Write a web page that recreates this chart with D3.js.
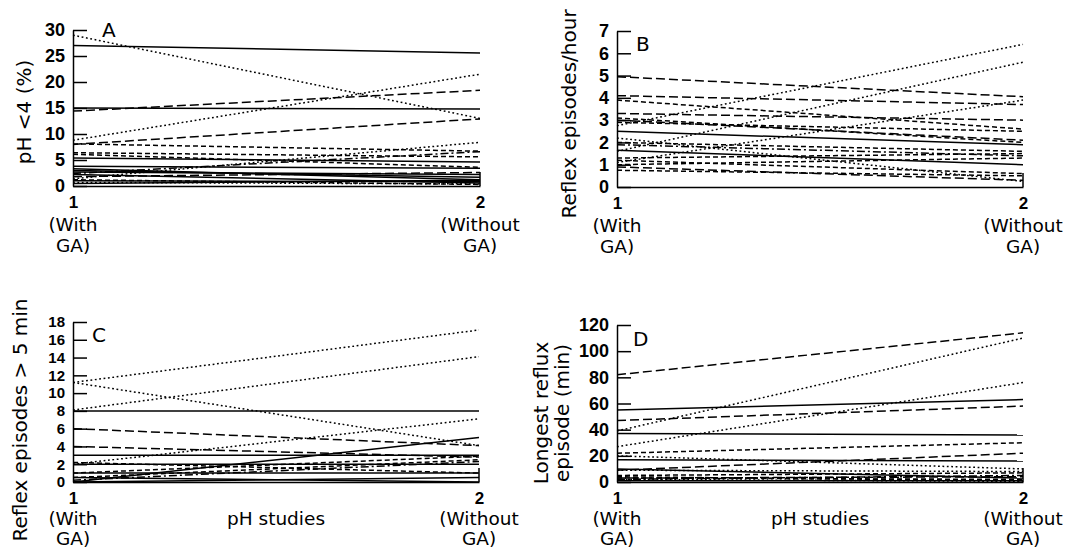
<!DOCTYPE html>
<html><head><meta charset="utf-8">
<script src="https://cdn.jsdelivr.net/npm/d3@7"></script>
<style>
body{margin:0;background:#fff;}
svg{display:block;background:#fff;}
.yaxis .tick text{font-family:"Liberation Sans",Arial,sans-serif;font-weight:bold;font-size:18px;fill:#000;}
.yaxis.tight .tick text{font-size:15px;}
.xaxis .tick text{font-family:"Liberation Sans",Arial,sans-serif;font-weight:bold;font-size:17px;fill:#000;}
.domain,.tick line{stroke:#000;stroke-width:1.5;}
.lbl{font-family:"DejaVu Sans",sans-serif;font-size:20px;fill:#000;}
.cat{font-family:"DejaVu Sans",sans-serif;font-size:18.5px;fill:#000;}
</style></head><body>
<svg id="chart" width="1067" height="551"></svg>
<script>
// ---- shared x categories ----
const xValues = [1, 2];
const xTickLabels = ["1", "2"];
const xCatLine1 = ["(With", "(Without"];
const xCatLine2 = ["GA)", "GA)"];
const xAxisTitle = "pH studies";

// ---- Panel A: pH < 4 (%) ----
const phWith    = [27.0, 29.0, 15.0, 14.4, 8.8, 8.0, 8.1, 6.4, 6.1, 5.4, 1.4, 2.4, 3.8, 3.3, 3.0, 2.7, 2.2, 1.0, 1.2, 0.5, 1.8, 0.7];
const phWithout = [25.6, 13.0, 14.8, 18.4, 21.5, 12.9, 6.7, 5.6, 3.6, 4.6, 8.4, 6.6, 3.4, 1.2, 1.7, 2.2, 0.6, 0.8, 0.3, 1.1, 2.6, 0.4];
const phStyle   = ["solid","dot","solid","long","dot","long","dash","dash","dash","solid","dot","dashdot","solid","solid","solid","solid","solid","solid","dash","solid","long","dot"];
const phTicks   = [0, 5, 10, 15, 20, 25, 30];

// ---- Panel B: reflux episodes / hour ----
const epWith    = [2.75, 1.6, 1.1, 2.2, 4.95, 4.1, 3.9, 3.3, 3.1, 2.5, 3.0, 1.65, 1.9, 1.3, 1.2, 0.9, 1.0, 2.0, 0.75, 2.9];
const epWithout = [6.4, 5.6, 3.9, 0.25, 4.05, 3.7, 2.6, 3.0, 2.0, 1.9, 2.1, 1.0, 1.4, 1.5, 0.6, 0.3, 1.3, 1.6, 0.5, 2.5];
const epStyle   = ["dot","dot","dot","dot","long","long","dash","long","dash","solid","long","solid","dashdot","dash","dash","long","dash","dash","dash","dash"];
const epTicks   = [0, 1, 2, 3, 4, 5, 6, 7];

// ---- Panel C: reflux episodes > 5 min ----
const lrWith    = [11.2, 8.1, 11.2, 8.0, 6.0, 2.0, 4.0, 3.0, 2.0, 0.0, 1.0, 0.5, 1.0, 2.2, 0.5, 0.2, 0.0];
const lrWithout = [17.1, 14.1, 4.1, 8.0, 4.1, 7.1, 2.8, 3.0, 2.0, 5.0, 2.9, 2.5, 1.0, 1.0, 0.0, 2.3, 0.5];
const lrStyle   = ["dot","dot","dot","solid","long","dot","long","solid","solid","solid","dash","dash","solid","dash","solid","dashdot","solid"];
const lrTicks   = [0, 2, 4, 6, 8, 10, 12, 14, 16, 18];

// ---- Panel D: longest reflux episode (min) ----
const ldWith    = [82, 39, 27, 55, 47, 37, 22, 9, 17, 20, 9, 10, 5, 3, 2, 4, 1, 2, 3];
const ldWithout = [114, 110, 76, 63, 58, 36, 30, 22, 16, 10, 8, 3, 7, 2, 5, 1, 1, 0.5, 4];
const ldStyle   = ["long","dot","dot","solid","long","solid","dash","long","solid","dot","dot","solid","dash","dash","dashdot","dash","solid","dot","long"];
const ldTicks   = [0, 20, 40, 60, 80, 100, 120];

const dashes = {solid: null, dot: "1.8,2.6", dash: "5,3", long: "9,4", dashdot: "8,3,2,3"};

const panels = [
  {letter:"A", w:phWith, wo:phWithout, st:phStyle, ticks:phTicks, x0:73, x1:480, yTop:30, yBot:186,
   title:["pH <4 (%)"], tx:[31], ty:112, ldx:29, ly:37, xtitle:false, o1:22, o2:45, o3:66, tight:false},
  {letter:"B", w:epWith, wo:epWithout, st:epStyle, ticks:epTicks, x0:617, x1:1023, yTop:31, yBot:187,
   title:["Reflex episodes/hour"], tx:[576], ty:114, ldx:19, ly:51, xtitle:false, o1:22, o2:45, o3:66, tight:false},
  {letter:"C", w:lrWith, wo:lrWithout, st:lrStyle, ticks:lrTicks, x0:73, x1:479, yTop:322, yBot:482,
   title:["Reflex episodes > 5 min"], tx:[27], ty:420, ldx:19, ly:342, xtitle:true, o1:22, o2:43, o3:63, tight:true},
  {letter:"D", w:ldWith, wo:ldWithout, st:ldStyle, ticks:ldTicks, x0:617, x1:1023, yTop:325, yBot:482,
   title:["Longest reflux","episode (min)"], tx:[548,569], ty:413, ldx:16, ly:346, xtitle:true, o1:22, o2:43, o3:63, tight:false}
];

const svg = d3.select("#chart");

panels.forEach(p => {
  const x = d3.scaleLinear().domain([1, 2]).range([p.x0, p.x1]);
  const y = d3.scaleLinear().domain([0, d3.max(p.ticks)]).range([p.yBot, p.yTop]);
  const g = svg.append("g");

  // series lines
  g.selectAll("line.s").data(d3.range(p.w.length)).join("line")
    .attr("class", "s")
    .attr("x1", x(xValues[0])).attr("x2", x(xValues[1]))
    .attr("y1", i => y(p.w[i])).attr("y2", i => y(p.wo[i]))
    .attr("stroke", "#000").attr("stroke-width", 1.5)
    .attr("stroke-dasharray", i => dashes[p.st[i]]);

  // y axis (ticks pointing inward)
  g.append("g").attr("class", p.tight ? "yaxis tight" : "yaxis")
    .attr("transform", `translate(${p.x0},0)`)
    .call(d3.axisLeft(y).tickValues(p.ticks).tickFormat(d3.format("d"))
      .tickSize(-14).tickSizeOuter(0).tickPadding(8));

  // x axis
  const xa = g.append("g").attr("class", "xaxis")
    .attr("transform", `translate(0,${p.yBot})`)
    .call(d3.axisBottom(x).tickValues(xValues).tickSize(0).tickSizeOuter(0)
      .tickFormat((d, i) => xTickLabels[i]));
  xa.selectAll(".tick text").attr("y", p.o1).attr("dy", 0);

  // short right marker
  g.append("line").attr("x1", x(2)).attr("x2", x(2))
    .attr("y1", y(0)).attr("y2", y(0) - 14)
    .attr("stroke", "#000").attr("stroke-width", 1.5);

  // category labels
  xValues.forEach((v, i) => {
    g.append("text").attr("class", "cat").attr("text-anchor", "middle")
      .attr("x", x(v)).attr("y", p.yBot + p.o2).text(xCatLine1[i]);
    g.append("text").attr("class", "cat").attr("text-anchor", "middle")
      .attr("x", x(v)).attr("y", p.yBot + p.o3).text(xCatLine2[i]);
  });
  if (p.xtitle) {
    g.append("text").attr("class", "cat").attr("text-anchor", "middle")
      .attr("x", (p.x0 + p.x1) / 2).attr("y", p.yBot + p.o2).text(xAxisTitle);
  }

  // panel letter
  g.append("text").attr("class", "lbl").attr("x", p.x0 + p.ldx).attr("y", p.ly).text(p.letter);

  // y title
  p.title.forEach((t, i) => {
    g.append("text").attr("class", "lbl").attr("text-anchor", "middle")
      .attr("transform", `translate(${p.tx[i]},${p.ty}) rotate(-90)`).text(t);
  });
});
</script>
</body></html>
